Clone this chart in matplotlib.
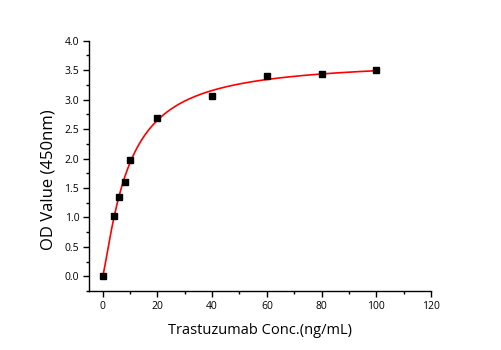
import numpy as np
import matplotlib
matplotlib.use("Agg")
import matplotlib.pyplot as plt
from matplotlib.ticker import MultipleLocator

# ── Data ──────────────────────────────────────────────────
conc = [0, 4, 6, 8, 10, 20, 40, 60, 80, 100]
od = [0.00, 1.02, 1.35, 1.60, 1.97, 2.69, 3.07, 3.40, 3.43, 3.50]

# ── Fit (Hill curve, grid search) ─────────────────────────
x = np.array(conc, dtype=float)
y = np.array(od)
best = None
for bmax in np.linspace(3.4, 4.4, 51):
    for kd in np.linspace(3, 20, 69):
        for n in np.linspace(0.8, 1.6, 33):
            pred = bmax * x**n / (kd**n + x**n)
            err = ((pred - y) ** 2).sum()
            if best is None or err < best[0]:
                best = (err, bmax, kd, n)
_, bmax, kd, n = best
xf = np.linspace(0, 100, 400)
yf = bmax * xf**n / (kd**n + xf**n)

# ── Figure ────────────────────────────────────────────────
plt.rcParams["font.family"] = ["Open Sans", "DejaVu Sans"]
fig = plt.figure(figsize=(5.01, 3.5), dpi=100)
ax = fig.add_axes([0.1776, 0.1686, 0.6827, 0.715])

ax.plot(xf, yf, color="red", lw=1.2, zorder=2)
ax.plot(conc, od, "s", color="black", ms=4.5, zorder=3)

ax.set_xlim(-5, 120)
ax.set_ylim(-0.25, 4.0)
ax.xaxis.set_major_locator(MultipleLocator(20))
ax.xaxis.set_minor_locator(MultipleLocator(10))
ax.yaxis.set_major_locator(MultipleLocator(0.5))
ax.yaxis.set_minor_locator(MultipleLocator(0.25))
ax.yaxis.set_major_formatter(lambda v, p: f"{v:.1f}")

for s in ["top", "right"]:
    ax.spines[s].set_visible(False)
for s in ["left", "bottom"]:
    ax.spines[s].set_linewidth(1.0)
ax.tick_params(which="major", direction="out", length=4, width=1, labelsize=7.5, pad=3)
ax.tick_params(which="minor", direction="out", length=2.5, width=1)

ax.set_xlabel("Trastuzumab Conc.(ng/mL)", fontsize=10.5, labelpad=8)
ax.set_ylabel("OD Value (450nm)", fontsize=12)
ax.yaxis.set_label_coords(-0.095, 0.444)

fig.savefig("out.png", dpi=100)
